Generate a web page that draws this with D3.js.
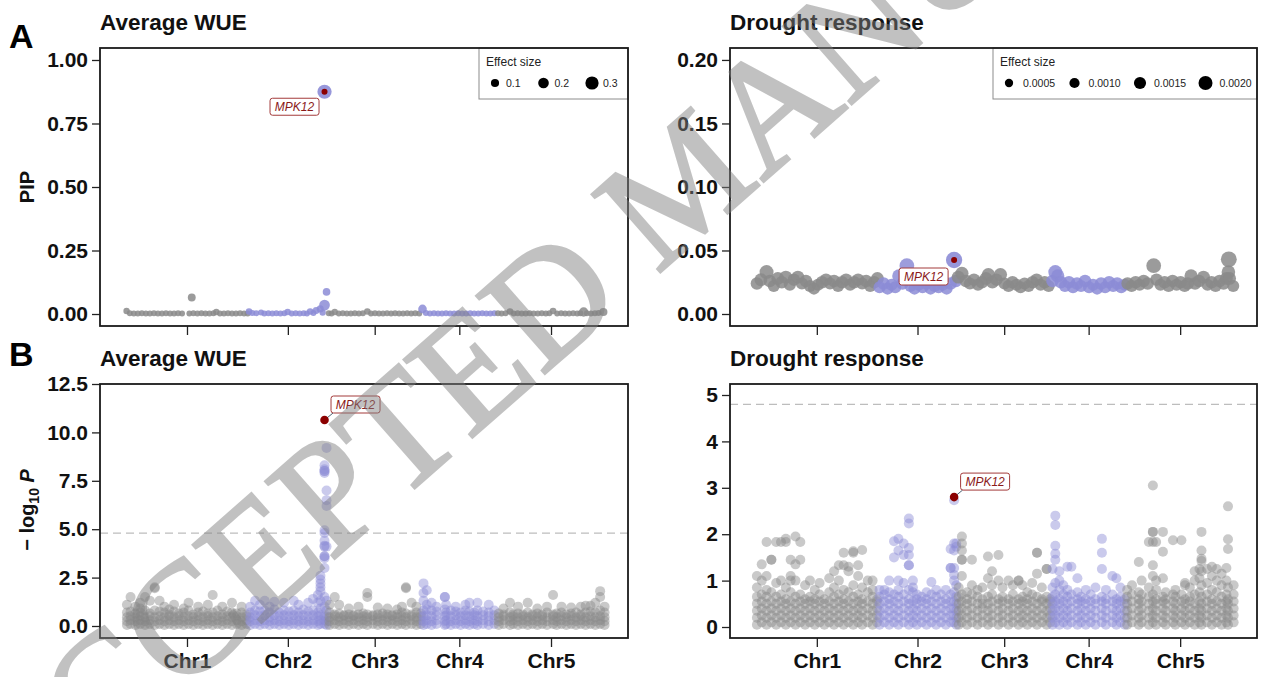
<!DOCTYPE html>
<html lang="en">
<head>
<meta charset="UTF-8">
<title>MPK12 GWAS</title>
<script src="https://cdn.jsdelivr.net/npm/d3@7"></script>
<style>
  body { margin: 0; background: #fff; }
  svg { display: block; font-family: "Liberation Sans", Arial, Helvetica, sans-serif; }
  .tick text { font-size: 21px; font-weight: bold; fill: #111; }
  .tick line { stroke: #222; stroke-width: 1.3px; }
  .panel-title { font-size: 22.5px; font-weight: bold; fill: #111; }
  .panel-letter { font-size: 34px; font-weight: bold; fill: #000; }
  .axis-title { font-size: 20px; font-weight: bold; fill: #111; }
  .legend-title { font-size: 12px; fill: #222; }
  .legend-label { font-size: 10.5px; fill: #222; }
  .gene-label { font-size: 12px; font-style: italic; fill: #8b1a1a; }
  .watermark { font-family: "Liberation Serif", "Times New Roman", serif; font-size: 158px;
               fill: #808080; stroke: #808080; stroke-width: 3px; opacity: 0.48; }
</style>
</head>
<body>
<svg id="fig" width="1264" height="677"></svg>
<script>
// --- chromosomes (Mb) ---
const chromNames = ["Chr1", "Chr2", "Chr3", "Chr4", "Chr5"];
const chromLengths = [30.43, 19.70, 23.46, 18.59, 26.98];

// --- y ticks ---
const pipWueTicks = [0, 0.25, 0.5, 0.75, 1.0];
const pipDroughtTicks = [0, 0.05, 0.10, 0.15, 0.20];
const logpWueTicks = [0, 2.5, 5, 7.5, 10, 12.5];
const logpDroughtTicks = [0, 1, 2, 3, 4, 5];
const thresholdLogP = 4.8;

// --- legend breaks (effect size) ---
const wueEffectBreaks = [0.1, 0.2, 0.3];
const droughtEffectBreaks = [0.0005, 0.0010, 0.0015, 0.0020];

// --- MPK12 ---
const mpk12Chr = 2, mpk12Pos = 18.96;
const mpk12Pip = [0.875, 0.0425];
const mpk12Eff = [0.34, 0.0026];
const mpk12LogP = [10.64, 2.8];

// A, average WUE: [chr, pos, PIP, effect]
const pipWue = [
  [1,0.2,.012,.03],[1,1.0,.003,.01],[1,2.0,.002,.01],[1,3.0,.002,.01],[1,4.0,.003,.01],[1,5.0,.002,.01],
  [1,6.0,.002,.01],[1,7.0,.003,.01],[1,8.0,.002,.01],[1,9.0,.002,.01],[1,10.0,.003,.01],[1,11.0,.002,.01],
  [1,12.0,.002,.01],[1,13.0,.003,.01],[1,14.0,.002,.01],[1,15.8,.002,.01],[1,16.4,.065,.09],[1,16.8,.003,.01],
  [1,17.8,.002,.01],[1,18.8,.003,.01],[1,19.8,.002,.01],[1,20.8,.002,.01],[1,21.8,.003,.01],[1,22.5,.008,.03],
  [1,23.4,.002,.01],[1,24.4,.002,.01],[1,25.4,.003,.01],[1,26.4,.002,.01],[1,27.4,.002,.01],[1,28.4,.003,.01],
  [1,29.4,.002,.01],[1,30.3,.002,.01],
  [2,0.2,.01,.04],[2,1.0,.004,.02],[2,2.0,.003,.01],[2,3.2,.006,.02],[2,4.0,.002,.01],[2,5.0,.003,.01],
  [2,6.0,.002,.01],[2,7.0,.003,.01],[2,8.0,.002,.01],[2,9.0,.003,.01],[2,9.8,.008,.03],[2,10.8,.002,.01],
  [2,11.8,.003,.01],[2,12.8,.002,.01],[2,13.8,.003,.01],[2,14.6,.002,.01],[2,15.4,.01,.04],[2,16.2,.004,.02],
  [2,16.9,.014,.05],[2,17.9,.02,.06],[2,18.5,.006,.03],[2,18.96,.035,.2],[2,19.46,.087,.08],
  [3,0.3,.003,.01],[3,1.0,.002,.01],[3,1.8,.008,.03],[3,2.8,.002,.01],[3,3.8,.003,.01],[3,4.8,.002,.01],
  [3,5.8,.002,.01],[3,6.8,.003,.01],[3,7.8,.002,.01],[3,8.8,.003,.01],[3,9.9,.01,.04],[3,10.8,.002,.01],
  [3,11.8,.003,.01],[3,12.8,.002,.01],[3,13.8,.002,.01],[3,14.8,.003,.01],[3,15.8,.002,.01],[3,16.8,.003,.01],
  [3,17.8,.002,.01],[3,18.8,.002,.01],[3,19.8,.003,.01],[3,20.8,.002,.01],[3,21.8,.003,.01],[3,22.8,.002,.01],
  [4,0.15,.02,.12],[4,1.0,.004,.02],[4,2.0,.002,.01],[4,3.0,.003,.01],[4,4.0,.002,.01],[4,5.0,.002,.01],
  [4,6.0,.003,.01],[4,7.0,.002,.01],[4,8.0,.002,.01],[4,9.0,.003,.01],[4,10.0,.002,.01],[4,11.0,.002,.01],
  [4,12.0,.003,.01],[4,13.0,.002,.01],[4,14.0,.002,.01],[4,15.0,.003,.01],[4,16.0,.002,.01],[4,17.0,.002,.01],
  [4,18.0,.003,.01],
  [5,0.3,.003,.01],[5,1.2,.002,.01],[5,2.2,.003,.01],[5,3.3,.01,.04],[5,4.2,.002,.01],[5,5.2,.003,.01],
  [5,6.2,.002,.01],[5,7.2,.002,.01],[5,8.2,.003,.01],[5,9.2,.002,.01],[5,10.2,.002,.01],[5,11.2,.003,.01],
  [5,12.2,.002,.01],[5,13.1,.003,.01],[5,14.0,.012,.04],[5,15.0,.002,.01],[5,16.0,.003,.01],[5,17.0,.002,.01],
  [5,18.0,.002,.01],[5,19.0,.003,.01],[5,20.0,.002,.01],[5,20.8,.003,.01],[5,21.6,.008,.15],[5,22.4,.003,.01],
  [5,23.4,.002,.01],[5,24.4,.003,.01],[5,25.3,.004,.02],[5,26.5,.008,.1]
];

// A, drought response: [chr, pos, PIP, effect]
const pipDrought = [
  [1,0.3,.024,.0016],[1,1.3,.027,.0017],[1,2.7,.033,.002],[1,3.5,.026,.0016],[1,4.5,.022,.0015],[1,5.5,.028,.0017],
  [1,6.5,.025,.0016],[1,7.5,.029,.0017],[1,8.5,.023,.0015],[1,9.5,.027,.0016],[1,10.5,.029,.0017],[1,11.5,.024,.0015],
  [1,12.5,.026,.0016],[1,13.5,.022,.0015],[1,14.5,.02,.0015],[1,15.5,.023,.0015],[1,16.5,.025,.0016],[1,17.5,.027,.0016],
  [1,18.5,.024,.0015],[1,19.5,.026,.0016],[1,20.5,.022,.0015],[1,21.5,.025,.0016],[1,22.5,.027,.0016],[1,23.5,.023,.0015],
  [1,24.5,.025,.0016],[1,25.5,.027,.0016],[1,26.5,.024,.0015],[1,27.5,.026,.0016],[1,28.5,.022,.0015],[1,29.5,.025,.0016],
  [1,30.3,.028,.0017],
  [2,0.4,.021,.0015],[2,1.4,.024,.0016],[2,2.4,.02,.0015],[2,3.4,.023,.0015],[2,4.3,.021,.0015],[2,5.2,.03,.0018],
  [2,6.1,.024,.0016],[2,7.2,.038,.0022],[2,8.1,.022,.0015],[2,9.1,.02,.0015],[2,10.1,.023,.0015],[2,11.1,.021,.0015],
  [2,12.1,.024,.0016],[2,13.1,.02,.0015],[2,14.1,.022,.0015],[2,15.1,.021,.0015],[2,16.1,.023,.0015],[2,17.1,.02,.0015],
  [2,18.1,.024,.0016],[2,19.4,.026,.0016],
  [3,0.3,.029,.0017],[3,1.2,.032,.0018],[3,2.2,.026,.0016],[3,3.2,.024,.0015],[3,4.2,.027,.0016],[3,5.2,.023,.0015],
  [3,6.2,.025,.0016],[3,7.2,.028,.0017],[3,7.8,.031,.0018],[3,8.8,.025,.0016],[3,9.8,.027,.0016],[3,10.8,.031,.0018],
  [3,11.8,.024,.0015],[3,12.8,.022,.0015],[3,13.8,.025,.0016],[3,14.8,.023,.0015],[3,15.8,.021,.0015],[3,16.8,.024,.0015],
  [3,17.8,.022,.0015],[3,18.8,.025,.0016],[3,19.8,.027,.0016],[3,20.8,.023,.0015],[3,21.8,.025,.0016],[3,22.8,.022,.0015],
  [4,0.3,.026,.0016],[4,1.0,.033,.002],[4,1.6,.03,.0018],[4,2.4,.025,.0016],[4,3.4,.022,.0015],[4,4.4,.025,.0016],
  [4,5.4,.021,.0015],[4,6.4,.024,.0016],[4,7.4,.022,.0015],[4,8.4,.026,.0016],[4,9.4,.021,.0015],[4,10.4,.023,.0015],
  [4,11.4,.02,.0015],[4,12.4,.024,.0016],[4,13.4,.021,.0015],[4,14.4,.025,.0016],[4,15.4,.022,.0015],[4,16.4,.024,.0016],
  [4,17.4,.021,.0015],[4,18.3,.023,.0015],
  [5,0.4,.024,.0016],[5,1.4,.022,.0015],[5,2.4,.025,.0016],[5,3.4,.023,.0015],[5,4.4,.026,.0016],[5,5.4,.024,.0016],
  [5,6.9,.038,.0022],[5,7.6,.027,.0016],[5,8.6,.023,.0015],[5,9.6,.025,.0016],[5,10.6,.022,.0015],[5,11.6,.026,.0016],
  [5,12.6,.023,.0015],[5,13.6,.025,.0016],[5,14.6,.022,.0015],[5,15.4,.024,.0016],[5,16.2,.03,.0018],[5,17.2,.024,.0016],
  [5,18.2,.026,.0016],[5,19.3,.029,.0017],[5,20.3,.023,.0015],[5,21.3,.025,.0016],[5,22.3,.022,.0015],[5,23.3,.026,.0016],
  [5,24.3,.024,.0016],[5,25.0,.028,.0017],[5,25.5,.033,.0019],[5,25.6,.043,.0025],[5,25.8,.028,.0017],[5,26.7,.022,.0015]
];

// B, average WUE -log10 P: [chr, pos, values at that position...]
const logpWue = [
  [1,0.3,.05,.25,.45,.7,1.1],[1,1.2,.1,.3,.5,.75,1.5],[1,2.4,.05,.25,.45,.65,1.0],[1,3.6,.1,.3,.5,.7,.9,1.2],
  [1,4.8,.05,.25,.45,.8,1.5],[1,6.0,.1,.3,.5,.65,1.3],[1,7.2,.05,.25,.45,.8,1.95,2.0],[1,8.4,.1,.3,.5,.75,1.3],
  [1,9.6,.05,.25,.45,.7,1.0],[1,10.8,.1,.3,.5,.6,.85],[1,12.0,.05,.25,.45,.75,1.1],[1,13.2,.1,.3,.5,.65],
  [1,14.4,.05,.25,.45,.7,.9],[1,15.6,.1,.3,.5,.8,1.2],[1,16.8,.05,.25,.45,.6],[1,18.0,.1,.3,.5,.7,1.0],
  [1,19.2,.05,.25,.45,.75],[1,20.4,.1,.3,.5,.65,1.1],[1,21.6,.05,.25,.45,.7,1.6],[1,22.8,.1,.3,.5,.8],
  [1,24.0,.05,.25,.45,.6,1.0],[1,25.2,.1,.3,.5,.75],[1,26.4,.05,.25,.45,.7,1.2],[1,27.6,.1,.3,.5,.65],
  [1,28.8,.05,.25,.45,.7,1.0],[1,30.0,.1,.3,.5,.6],
  [2,0.5,.05,.25,.45,.7,1.0],[2,1.7,.1,.3,.55,.8,1.3],[2,2.9,.05,.25,.5,.75,1.1],[2,4.1,.1,.3,.55,.8,1.3],
  [2,5.3,.05,.25,.45,.7,1.0],[2,6.5,.1,.3,.55,.85,1.25],[2,7.7,.05,.25,.5,.7],[2,8.9,.1,.3,.55,.8,1.2],
  [2,10.1,.05,.25,.5,.75],[2,11.3,.1,.3,.55,.8,1.3],[2,12.5,.05,.25,.5,.7,1.1],[2,13.7,.1,.3,.55,.85],
  [2,14.9,.05,.25,.5,.75,1.2],[2,16.1,.1,.3,.55,.8,1.4],[2,17.3,.05,.25,.5,.7,1.2,1.6],
  [2,17.95,.1,.3,.55,.9,1.3,1.8,2.0,2.2,2.4,2.6],
  [2,18.96,.1,.3,.5,1.0,1.5,3.0,3.5,3.6,3.6,4.1,4.15,4.4,4.8,4.95,7.9,8.0,8.0,8.1,8.3],
  [2,19.46,.05,.25,.5,.8,1.3,4.1,6.2,6.5,7.0,9.2],
  [3,0.5,.05,.25,.45,.7,1.1],[3,1.8,.1,.3,.5,.6,1.5],[3,2.9,.05,.25,.45,.65,1.1],[3,4.1,.1,.3,.5,.55],
  [3,5.3,.05,.25,.45,.6,.9],[3,6.5,.1,.3,.5,.55],[3,7.7,.05,.25,.45,.6,1.0],[3,8.9,.1,.3,.5,.65],
  [3,9.9,.05,.25,.45,.6,1.5,1.7],[3,11.3,.1,.3,.5,.55],[3,12.5,.05,.25,.45,.6,.95],[3,13.7,.1,.3,.5,.65],
  [3,14.9,.05,.25,.45,.6,.9],[3,16.1,.1,.3,.5,.55],[3,17.3,.05,.25,.45,.6,.85],[3,18.5,.1,.3,.5,.7,1.0],
  [3,19.5,.05,.25,.45,.65,1.95,2.0],[3,20.9,.1,.3,.5,.6,1.2],[3,22.1,.05,.25,.45,.7,1.0],[3,23.2,.1,.3,.5,.65],
  [4,0.4,.05,.25,.5,.8,1.3,1.7,2.2],[4,1.2,.1,.3,.55,.85,1.1,1.85],[4,2.4,.05,.25,.5,.8,1.2],[4,3.6,.1,.3,.55,.75,1.0],
  [4,5.7,.05,.25,.5,.85,1.5,1.5],[4,6.0,.1,.3,.55,.7,1.1],[4,7.2,.05,.25,.5,.8],[4,8.4,.1,.3,.55,.75,1.0],
  [4,9.6,.05,.25,.5,.7],[4,10.8,.1,.3,.55,.8,1.1],[4,11.8,.05,.25,.5,.75,1.2],[4,13.0,.1,.3,.55,.7],
  [4,13.8,.05,.25,.5,.8,1.2],[4,15.2,.1,.3,.55,.75],[4,16.6,.05,.25,.5,.7,1.1],[4,18.0,.1,.3,.55,.8],
  [5,0.5,.05,.25,.45,.65],[5,1.7,.1,.3,.5,.6,.9],[5,3.3,.05,.25,.45,.7,1.2],[5,4.1,.1,.3,.5,.6],
  [5,5.3,.05,.25,.45,.65,1.0],[5,6.5,.1,.3,.5,.6],[5,7.7,.05,.25,.45,.7,1.2],[5,8.9,.1,.3,.5,.6],
  [5,10.1,.05,.25,.45,.65,.9],[5,11.3,.1,.3,.5,.6],[5,12.5,.05,.25,.45,.7,1.0],[5,14.0,.1,.3,.5,.6,1.6],
  [5,14.9,.05,.25,.45,.65],[5,16.1,.1,.3,.5,.7,1.0],[5,17.3,.05,.25,.45,.6],[5,18.5,.1,.3,.5,.65,.95],
  [5,19.7,.05,.25,.45,.7],[5,20.9,.1,.3,.5,.6,1.0],[5,22.1,.05,.25,.45,.7,1.05],[5,23.3,.1,.3,.5,.75,1.05],
  [5,24.5,.05,.25,.45,.7,1.2],[5,25.7,.1,.3,.5,.8,1.5,1.8],[5,26.8,.05,.25,.45,.7,1.0]
];

// B, drought response -log10 P: [chr, pos, values at that position...]
const logpDrought = [
  [1,0.3,.05,.2,.35,.5,.65,.85,1.1],[1,1.5,.1,.25,.4,.55,.7,1.0,1.35],[1,2.7,.05,.2,.35,.5,.65,.8,1.1,1.83],
  [1,3.9,.1,.25,.4,.55,.75,1.45,1.45],[1,5.1,.05,.2,.35,.5,.65,.95,1.83],[1,6.3,.1,.25,.4,.55,.7,1.0,1.83],
  [1,7.5,.05,.2,.35,.5,.6,.85,1.83,1.9],[1,8.7,.1,.25,.4,.55,.75,1.0,1.1,1.45],[1,9.9,.05,.2,.35,.5,.65,1.0,1.35,1.95],
  [1,11.1,.1,.25,.4,.55,.7,1.45,1.83],[1,12.3,.05,.2,.35,.5,.6,.9],[1,13.5,.1,.25,.4,.55,.65,1.0],
  [1,14.7,.05,.2,.35,.5,.6,.8],[1,15.9,.1,.25,.4,.55,.7,.95],[1,17.1,.05,.2,.35,.5,.6],[1,18.3,.1,.25,.4,.55,.75,1.05],
  [1,19.5,.05,.2,.35,.5,.65,.85,1.2],[1,20.7,.1,.25,.4,.55,.7,1.0,1.33],[1,21.9,.05,.2,.35,.5,.6,.8,1.33,1.6],
  [1,23.1,.1,.25,.4,.55,.75,1.2,1.3],[1,24.3,.05,.2,.35,.5,.65,.9,1.6,1.63],[1,25.5,.1,.25,.4,.55,.7,1.1,1.33],
  [1,26.5,.05,.2,.35,.5,.6,.85,1.66],[1,27.9,.1,.25,.4,.55,.75,1.0],[1,29.1,.05,.2,.35,.5,.65,.8,1.0],
  [1,30.2,.1,.25,.4,.55,.6],
  [2,0.4,.05,.2,.35,.5,.65,.8],[2,1.6,.1,.25,.4,.55,.7,.8],[2,2.8,.05,.2,.35,.5,.6,.75,1.0],
  [2,4.0,.1,.25,.4,.55,.7,1.5,1.85],[2,5.1,.05,.2,.35,.5,.65,.8,1.0,1.65,1.9],[2,6.4,.1,.25,.4,.55,.7,.95,1.55,1.8],
  [2,7.7,.05,.2,.35,.5,.6,.8,1.33,1.33,1.55,1.7,2.23,2.34],[2,8.7,.1,.25,.4,.55,.75,.85,1.0],
  [2,9.7,.05,.2,.35,.5,.6,.7],[2,10.9,.1,.25,.4,.55,.65],[2,12.1,.05,.2,.35,.5,.6,.75],
  [2,13.3,.1,.25,.4,.55,.7,.97],[2,14.5,.05,.2,.35,.5,.65,.8],[2,15.7,.1,.25,.4,.55,.7],[2,16.9,.05,.2,.35,.5,.6,.8],
  [2,18.1,.1,.25,.4,.55,.7,1.27,1.27,1.68],[2,18.96,.1,.25,.4,.55,.75,1.0,1.12,1.27,1.65,1.8,2.73],
  [2,19.5,.05,.2,.35,.5,.65,.9,1.73,1.8],
  [3,0.4,.05,.2,.35,.5,.65,.85],[3,1.2,.1,.25,.4,.55,.7,1.1,1.45,1.45,1.65,1.8,1.95],[3,2.5,.05,.2,.35,.5,.6,.75],
  [3,3.7,.1,.25,.4,.55,.7,.9,1.45],[3,5.1,.05,.2,.35,.5,.65,.8],[3,6.3,.1,.25,.4,.5,.6,.85],
  [3,7.7,.05,.2,.35,.5,.65,1.05,1.52],[3,8.7,.1,.25,.4,.55,.7,.9,1.2],[3,10.3,.05,.2,.35,.5,.6,1.0,1.55],
  [3,11.3,.1,.25,.4,.55,.65,.85],[3,12.8,.05,.2,.35,.5,.6,1.0],[3,13.9,.1,.25,.4,.55,.7,.9],
  [3,15.3,.05,.2,.35,.5,.6,1.0,1.0],[3,16.3,.1,.25,.4,.55,.65,.9],[3,17.5,.05,.2,.35,.5,.6,.75],
  [3,18.7,.1,.25,.4,.55,.7,.95],[3,19.9,.05,.2,.35,.5,.65,1.15,1.6,1.6],[3,21.1,.1,.25,.4,.55,.6,.85],
  [3,22.3,.05,.2,.35,.5,.65,1.25,1.25],[3,23.2,.1,.25,.4,.55,.6],
  [4,0.3,.05,.2,.35,.5,.65,.85,1.25],[4,1.0,.1,.25,.4,.55,.7,.95,1.45,1.58,1.75,2.2,2.4],
  [4,2.0,.05,.2,.35,.5,.6,.8,1.0,1.2],[4,3.0,.1,.25,.4,.55,.7,.9],[4,4.0,.05,.2,.35,.5,.65,.8,1.3],
  [4,5.0,.1,.25,.4,.55,.7,1.3],[4,6.5,.05,.2,.35,.5,.6,.75,1.05],[4,7.4,.1,.25,.4,.55,.65],
  [4,8.6,.05,.2,.35,.5,.6,.8],[4,9.8,.1,.25,.4,.55,.7],[4,11.0,.05,.2,.35,.5,.6,.85],
  [4,12.6,.1,.25,.4,.55,.65,1.25,1.6,1.9],[4,13.6,.05,.2,.35,.5,.6,.8],[4,15.2,.1,.25,.4,.55,.7,1.1],
  [4,16.2,.05,.2,.35,.5,.6,1.05],[4,17.2,.1,.25,.4,.55,.65,.85],[4,18.3,.05,.2,.35,.5,.6],
  [5,0.3,.05,.2,.35,.5,.65,.8],[5,1.5,.1,.25,.4,.55,.7,.9],[5,3.2,.05,.2,.35,.5,.6,.75,1.4],[5,3.9,.1,.25,.4,.55,.7,1.0],
  [5,5.7,.05,.2,.35,.5,.65,.85,1.83],[5,6.7,.1,.25,.4,.55,.7,1.1,1.33,1.83,2.05,2.05,3.05],
  [5,7.5,.05,.2,.35,.5,.6,.8,1.0,1.83],[5,9.2,.1,.25,.4,.55,.65,1.05,1.62,2.05],[5,9.9,.05,.2,.35,.5,.6,.75],
  [5,11.7,.1,.25,.4,.55,.7,1.87],[5,12.3,.05,.2,.35,.5,.65,.8],[5,13.8,.1,.25,.4,.55,.7,1.87],
  [5,14.7,.05,.2,.35,.5,.6,.9,.95],[5,15.9,.1,.25,.4,.55,.65,.85],[5,17.1,.05,.2,.35,.5,.7,1.0,1.2],
  [5,18.3,.1,.25,.4,.55,.75,1.05,1.25],[5,18.8,.05,.2,.35,.5,.65,.9,1.2,1.42,1.47,1.65,2.05],
  [5,20.2,.1,.25,.4,.55,.7,.95,1.25],[5,21.4,.05,.2,.35,.5,.6,.8,1.1,1.3],[5,22.6,.1,.25,.4,.55,.75,1.0,1.25],
  [5,23.8,.05,.2,.35,.5,.65,.9,1.15],[5,25.0,.1,.25,.4,.55,.7,1.0,1.27],[5,25.4,.05,.2,.35,.5,.6,.85,1.68,1.89,2.6],
  [5,26.8,.1,.25,.4,.55,.7,.9]
];

// ---------- layout ----------
const svg = d3.select("#fig");
const chromStart = Array.from(d3.cumsum([0, ...chromLengths.slice(0, -1)]));
const chromMid = chromLengths.map((l, i) => chromStart[i] + l / 2);
const genome = (chr, pos) => chromStart[chr - 1] + pos;
const xDomain = [-6.4, 124.8];

const grey = "#8a8a8a", blue = "#8c8cd6", darkRed = "#8b0000";
const chrColor = chr => chr % 2 === 1 ? grey : blue;

const colX = [100, 730], colW = [528, 527];
const rowY = [48, 384], rowH = [278, 254];

function makePanel(col, row, yDomain, ticks, fmt, title) {
  const w = colW[col], h = rowH[row];
  const g = svg.append("g").attr("transform", `translate(${colX[col]},${rowY[row]})`);
  const x = d3.scaleLinear().domain(xDomain).range([0, w]);
  const y = d3.scaleLinear().domain(yDomain).range([h, 0]);

  svg.append("text").attr("class", "panel-title")
    .attr("x", colX[col]).attr("y", rowY[row] - 18).text(title);

  const yAxis = g.append("g")
    .call(d3.axisLeft(y).tickValues(ticks).tickFormat(fmt).tickSize(8).tickPadding(4));
  const xAxis = g.append("g").attr("transform", `translate(0,${h})`)
    .call(d3.axisBottom(x).tickValues(chromMid)
      .tickFormat((d, i) => row === 1 ? chromNames[i] : "").tickSize(9).tickPadding(3));
  [yAxis, xAxis].forEach(a => {
    a.attr("font-size", null).attr("font-family", null);
    a.select(".domain").remove();
  });
  xAxis.selectAll(".tick text").attr("dy", "0.85em");

  const plot = g.append("g");
  const frame = () => g.append("rect").attr("width", w).attr("height", h)
    .attr("fill", "none").attr("stroke", "#1a1a1a").attr("stroke-width", 1.8);
  return { g, plot, x, y, w, h, frame };
}

function geneLabel(p, px, py, dx, dy, segment) {
  const lw = 49, lh = 17;
  const lx = px + dx, ly = py + dy;
  if (segment) {
    p.plot.append("line").attr("x1", px).attr("y1", py)
      .attr("x2", lx - lw / 2 + 2).attr("y2", ly + lh / 2)
      .attr("stroke", "#4a6272").attr("stroke-width", 1);
  }
  p.plot.append("rect").attr("x", lx - lw / 2).attr("y", ly - lh / 2)
    .attr("width", lw).attr("height", lh).attr("rx", 2.5)
    .attr("fill", "#fff").attr("stroke", "#a33a3a").attr("stroke-width", 1);
  p.plot.append("text").attr("class", "gene-label")
    .attr("x", lx).attr("y", ly + 4.3).attr("text-anchor", "middle").text("MPK12");
}

function legend(p, breaks, rScale, left, step, gap, fmt) {
  const lg = p.g.append("g");
  lg.append("rect").attr("x", left).attr("y", 0).attr("width", p.w - left).attr("height", 51)
    .attr("fill", "#fff").attr("stroke", "#8c8c8c").attr("stroke-width", 1);
  lg.append("text").attr("class", "legend-title").attr("x", left + 7).attr("y", 18).text("Effect size");
  breaks.forEach((b, i) => {
    const cx = left + 16 + i * step;
    lg.append("circle").attr("cx", cx).attr("cy", 35).attr("r", rScale(b)).attr("fill", "#000");
    lg.append("text").attr("class", "legend-label").attr("x", cx + gap).attr("y", 39).text(fmt(b));
  });
}

// ---------- A: PIP ----------
const rWue = d3.scaleLinear().domain([0, 0.3]).range([2.8, 6.6]);
const rDrought = d3.scaleLinear().domain([0, 0.002]).range([3.2, 7.0]);

function pipPanel(col, data, ticks, yDomain, rScale, title, k, labelDx, labelDy) {
  const p = makePanel(col, 0, yDomain, ticks, d3.format(".2f"), title);
  p.plot.selectAll("circle.snp").data(data).join("circle").attr("class", "snp")
    .attr("cx", d => p.x(genome(d[0], d[1])))
    .attr("cy", d => p.y(d[2]))
    .attr("r", d => rScale(d[3]))
    .attr("fill", d => chrColor(d[0])).attr("fill-opacity", 0.85);
  const mx = p.x(genome(mpk12Chr, mpk12Pos)), my = p.y(mpk12Pip[k]);
  p.plot.append("circle").attr("cx", mx).attr("cy", my).attr("r", rScale(mpk12Eff[k]))
    .attr("fill", blue).attr("fill-opacity", 0.9);
  p.plot.append("circle").attr("cx", mx).attr("cy", my).attr("r", 3).attr("fill", darkRed);
  geneLabel(p, mx, my, labelDx, labelDy, false);
  return p;
}

const pA1 = pipPanel(0, pipWue, pipWueTicks, [-0.0472, 1.0472], rWue, "Average WUE", 0, -30, 15);
legend(pA1, wueEffectBreaks, rWue, 379, 48.5, 11, d3.format(".1f"));
pA1.frame();
const pA2 = pipPanel(1, pipDrought, pipDroughtTicks, [-0.00945, 0.2094], rDrought, "Drought response", 1, -30.5, 16.5);
legend(pA2, droughtEffectBreaks, rDrought, 263, 65.5, 14, d3.format(".4f"));
pA2.frame();

// ---------- B: -log10 P ----------
function logpPanel(col, data, ticks, yDomain, fmt, title, k) {
  const p = makePanel(col, 1, yDomain, ticks, fmt, title);
  p.plot.append("line").attr("x1", 0).attr("x2", p.w)
    .attr("y1", p.y(thresholdLogP)).attr("y2", p.y(thresholdLogP))
    .attr("stroke", "#bdbdbd").attr("stroke-width", 1.3).attr("stroke-dasharray", "8,5");
  const snps = data.flatMap(([chr, pos, ...vals]) => vals.map(v => ({ chr, pos, v })));
  p.plot.selectAll("circle.snp").data(snps).join("circle").attr("class", "snp")
    .attr("cx", d => p.x(genome(d.chr, d.pos)))
    .attr("cy", d => p.y(d.v))
    .attr("r", 5)
    .attr("fill", d => chrColor(d.chr)).attr("fill-opacity", 0.46);
  const mx = p.x(genome(mpk12Chr, mpk12Pos)), my = p.y(mpk12LogP[k]);
  geneLabel(p, mx, my, 31, -15.5, true);
  p.plot.append("circle").attr("cx", mx).attr("cy", my).attr("r", 4.3).attr("fill", darkRed);
  p.frame();
  return p;
}

logpPanel(0, logpWue, logpWueTicks, [-0.62, 12.5], d3.format(".1f"), "Average WUE", 0);
logpPanel(1, logpDrought, logpDroughtTicks, [-0.237, 5.237], d3.format("d"), "Drought response", 1);

// ---------- letters and axis titles ----------
svg.append("text").attr("class", "panel-letter").attr("x", 9).attr("y", 48).text("A");
svg.append("text").attr("class", "panel-letter").attr("x", 9).attr("y", 366).text("B");

svg.append("text").attr("class", "axis-title")
  .attr("transform", "translate(34,187) rotate(-90)").attr("text-anchor", "middle").text("PIP");
const lp = svg.append("text").attr("class", "axis-title")
  .attr("transform", "translate(34,510) rotate(-90)").attr("text-anchor", "middle");
lp.append("tspan").text("\u2212 log");
lp.append("tspan").attr("font-size", 14).attr("dy", 5).text("10");
lp.append("tspan").attr("dy", -5).attr("font-style", "italic").text(" P");

// ---------- watermark ----------
svg.append("text").attr("class", "watermark")
  .attr("transform", "translate(14,840) rotate(-41.3)")
  .text("ACCEPTED MANUSCRIPT");
</script>
</body>
</html>
